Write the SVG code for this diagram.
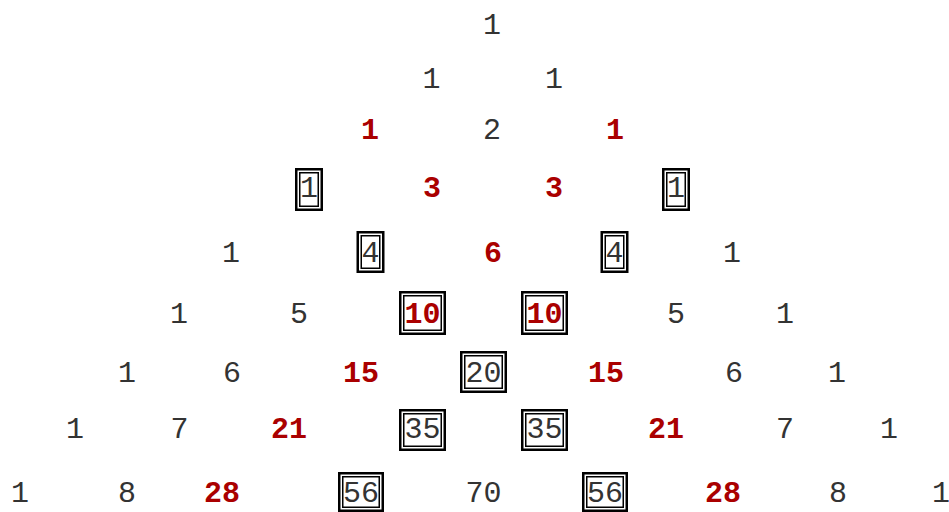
<svg xmlns="http://www.w3.org/2000/svg" width="949" height="512" viewBox="0 0 949 512">
<style>
.t{font-family:"Liberation Mono","Courier New",monospace;font-size:30px;fill:#333;text-anchor:middle}
.r{font-weight:bold;fill:#aa0000}
.bo{fill:#fff;stroke:#000;stroke-width:2.5}
.bi{fill:none;stroke:#000;stroke-width:1.5}
</style>
<rect width="949" height="512" fill="#fff"/>
<g id="row0">
<g id="n0_0"><text class="t" x="492" y="34">1</text></g>
</g>
<g id="row1">
<g id="n1_0"><text class="t" x="431.5" y="88">1</text></g>
<g id="n1_1"><text class="t" x="554" y="88">1</text></g>
</g>
<g id="row2">
<g id="n2_0"><text class="t r" x="370" y="139">1</text></g>
<g id="n2_1"><text class="t" x="492" y="139">2</text></g>
<g id="n2_2"><text class="t r" x="615" y="139">1</text></g>
</g>
<g id="row3">
<g id="n3_0"><rect class="bo" x="296.25" y="169.25" width="25.5" height="40.5"/><rect class="bi" x="299.75" y="172.75" width="18.5" height="33.5"/><text class="t" x="309" y="197">1</text></g>
<g id="n3_1"><text class="t r" x="432" y="197">3</text></g>
<g id="n3_2"><text class="t r" x="554" y="197">3</text></g>
<g id="n3_3"><rect class="bo" x="663.25" y="169.25" width="25.5" height="40.5"/><rect class="bi" x="666.75" y="172.75" width="18.5" height="33.5"/><text class="t" x="676" y="197">1</text></g>
</g>
<g id="row4">
<g id="n4_0"><text class="t" x="231" y="262">1</text></g>
<g id="n4_1"><rect class="bo" x="357.75" y="232.25" width="25.5" height="39.5"/><rect class="bi" x="361.25" y="235.75" width="18.5" height="32.5"/><text class="t" x="370.5" y="262">4</text></g>
<g id="n4_2"><text class="t r" x="493" y="262">6</text></g>
<g id="n4_3"><rect class="bo" x="601.75" y="232.25" width="25.5" height="39.5"/><rect class="bi" x="605.25" y="235.75" width="18.5" height="32.5"/><text class="t" x="614.5" y="262">4</text></g>
<g id="n4_4"><text class="t" x="732" y="262">1</text></g>
</g>
<g id="row5">
<g id="n5_0"><text class="t" x="179" y="323">1</text></g>
<g id="n5_1"><text class="t" x="299" y="323">5</text></g>
<g id="n5_2"><rect class="bo" x="400.25" y="292.25" width="44.5" height="41.5"/><rect class="bi" x="403.75" y="295.75" width="37.5" height="34.5"/><text class="t r" x="422.5" y="323">10</text></g>
<g id="n5_3"><rect class="bo" x="522.25" y="292.25" width="44.5" height="41.5"/><rect class="bi" x="525.75" y="295.75" width="37.5" height="34.5"/><text class="t r" x="544.5" y="323">10</text></g>
<g id="n5_4"><text class="t" x="676" y="323">5</text></g>
<g id="n5_5"><text class="t" x="785" y="323">1</text></g>
</g>
<g id="row6">
<g id="n6_0"><text class="t" x="127" y="382">1</text></g>
<g id="n6_1"><text class="t" x="232" y="382">6</text></g>
<g id="n6_2"><text class="t r" x="361" y="382">15</text></g>
<g id="n6_3"><rect class="bo" x="461.25" y="352.25" width="44.5" height="39.5"/><rect class="bi" x="464.75" y="355.75" width="37.5" height="32.5"/><text class="t" x="483.5" y="382">20</text></g>
<g id="n6_4"><text class="t r" x="606" y="382">15</text></g>
<g id="n6_5"><text class="t" x="734" y="382">6</text></g>
<g id="n6_6"><text class="t" x="837" y="382">1</text></g>
</g>
<g id="row7">
<g id="n7_0"><text class="t" x="75" y="438">1</text></g>
<g id="n7_1"><text class="t" x="179.5" y="438">7</text></g>
<g id="n7_2"><text class="t r" x="289" y="438">21</text></g>
<g id="n7_3"><rect class="bo" x="400.25" y="410.25" width="44.5" height="39.5"/><rect class="bi" x="403.75" y="413.75" width="37.5" height="32.5"/><text class="t" x="422.5" y="438">35</text></g>
<g id="n7_4"><rect class="bo" x="522.25" y="410.25" width="44.5" height="39.5"/><rect class="bi" x="525.75" y="413.75" width="37.5" height="32.5"/><text class="t" x="544.5" y="438">35</text></g>
<g id="n7_5"><text class="t r" x="666" y="438">21</text></g>
<g id="n7_6"><text class="t" x="785" y="438">7</text></g>
<g id="n7_7"><text class="t" x="889" y="438">1</text></g>
</g>
<g id="row8">
<g id="n8_0"><text class="t" x="20" y="502">1</text></g>
<g id="n8_1"><text class="t" x="127" y="502">8</text></g>
<g id="n8_2"><text class="t r" x="222" y="502">28</text></g>
<g id="n8_3"><rect class="bo" x="339.25" y="473.25" width="43.5" height="37.5"/><rect class="bi" x="342.75" y="476.75" width="36.5" height="30.5"/><text class="t" x="361" y="502">56</text></g>
<g id="n8_4"><text class="t" x="483.5" y="502">70</text></g>
<g id="n8_5"><rect class="bo" x="583.25" y="473.25" width="43.5" height="37.5"/><rect class="bi" x="586.75" y="476.75" width="36.5" height="30.5"/><text class="t" x="605" y="502">56</text></g>
<g id="n8_6"><text class="t r" x="723" y="502">28</text></g>
<g id="n8_7"><text class="t" x="838" y="502">8</text></g>
<g id="n8_8"><text class="t" x="941" y="502">1</text></g>
</g>
<g id="connectors"></g>
</svg>
